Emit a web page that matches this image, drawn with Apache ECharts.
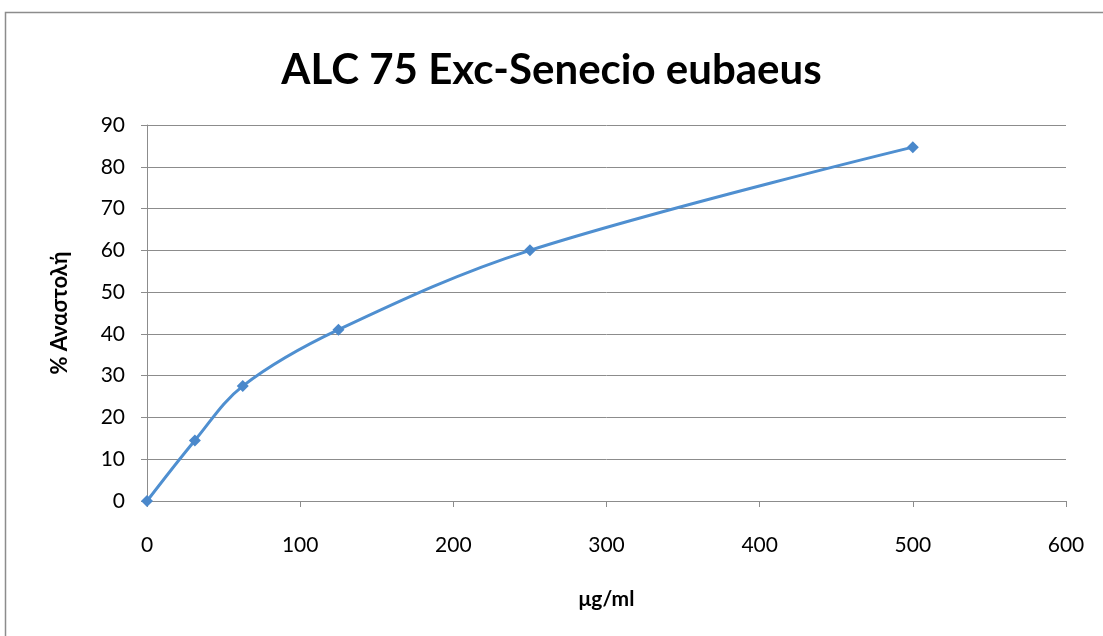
<!DOCTYPE html>
<html><head><meta charset="utf-8">
<script src="https://cdn.jsdelivr.net/npm/echarts@6/dist/echarts.min.js"></script>
<style>html,body{margin:0;padding:0;background:#fff}#c{width:1103px;height:636px}</style>
</head><body><div id="c"></div>
<script>
const xValues = [0, 31.25, 62.5, 125, 250, 500];
const yValues = [0, 14.5, 27.5, 41, 60, 84.7];
const titleText = 'ALC 75 Exc-Senecio eubaeus';
const xName = 'μg/ml';
const yName = '% Αναστολή';

const chart = echarts.init(document.getElementById('c'));
const font = 'Lato, "Open Sans", sans-serif';
chart.setOption({
  animation: false,
  graphic: [{type:'rect', shape:{x:5.5,y:12.5,width:1120,height:700}, style:{fill:'none', stroke:'#8c8c8c', lineWidth:1.5}, silent:true}],
  title: {text: titleText, left: 'center', top: 44,
    textStyle:{fontFamily: font, fontSize: 42, fontWeight:'bold', color:'#000'}},
  grid: {left:147, right:37, top:125, bottom:135},
  xAxis: {type:'value', min:0, max:600, interval:100,
    name: xName, nameLocation:'middle', nameGap:88,
    nameTextStyle:{fontFamily:font, fontSize:21, fontWeight:'bold', color:'#000'},
    axisLine:{show:true, lineStyle:{color:'#8c8c8c'}},
    axisTick:{show:true, length:6, inside:false, lineStyle:{color:'#8c8c8c'}},
    axisLabel:{fontFamily:font, fontSize:21, color:'#000', margin:34},
    splitLine:{show:false}},
  yAxis: {type:'value', min:0, max:90, interval:10,
    name: yName, nameLocation:'middle', nameGap:76, nameRotate:90,
    nameTextStyle:{fontFamily:font, fontSize:22, fontWeight:'bold', color:'#000'},
    axisLine:{show:true, lineStyle:{color:'#8c8c8c'}},
    axisTick:{show:true, length:6, lineStyle:{color:'#8c8c8c'}},
    axisLabel:{fontFamily:font, fontSize:21, color:'#000', margin:22},
    splitLine:{show:true, lineStyle:{color:'#8c8c8c', width:1}}},
  series: [{type:'line', data: xValues.map((x,i)=>[x, yValues[i]]),
    smooth:0.35, symbol:'diamond', symbolSize:12,
    lineStyle:{color:'#4f8fd0', width:3},
    itemStyle:{color:'#4a88cb'}}]
});
</script></body></html>
